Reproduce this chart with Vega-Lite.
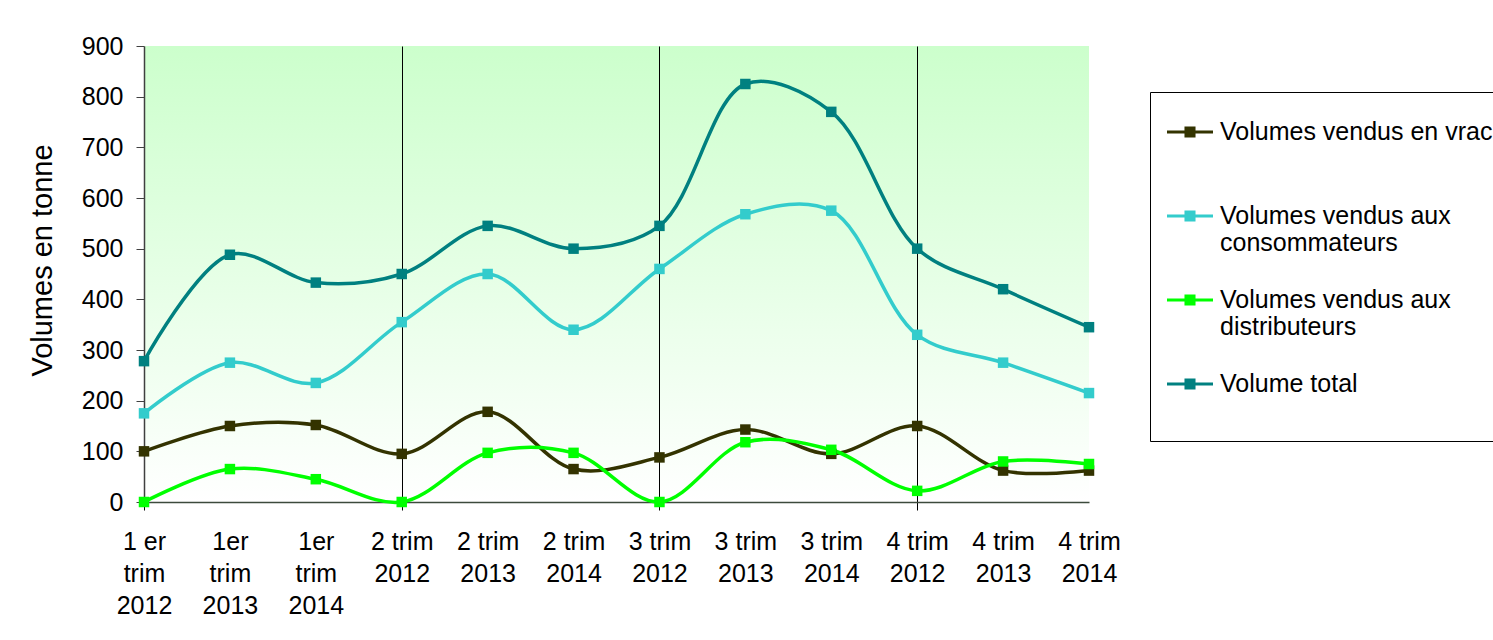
{
  "$schema": "https://vega.github.io/schema/vega-lite/v6.json",
  "width": 945,
  "height": 456,
  "autosize": {"type": "none"},
  "padding": {"left": 144, "top": 46, "right": 404, "bottom": 138},
  "background": "white",
  "config": {
    "font": "Liberation Sans",
    "view": {
      "stroke": null,
      "fill": {"gradient": "linear", "x1": 0, "y1": 0, "x2": 0, "y2": 1, "stops": [{"offset": 0, "color": "#CCFFCC"}, {"offset": 1, "color": "#FFFFFF"}]}
    }
  },
  "data": {
    "values": [
      {"q": "1 er|trim|2012", "s": "Volumes vendus en vrac", "v": 100},
      {"q": "1er|trim|2013", "s": "Volumes vendus en vrac", "v": 150},
      {"q": "1er|trim|2014", "s": "Volumes vendus en vrac", "v": 152},
      {"q": "2 trim|2012", "s": "Volumes vendus en vrac", "v": 95},
      {"q": "2 trim|2013", "s": "Volumes vendus en vrac", "v": 178},
      {"q": "2 trim|2014", "s": "Volumes vendus en vrac", "v": 65},
      {"q": "3 trim|2012", "s": "Volumes vendus en vrac", "v": 88},
      {"q": "3 trim|2013", "s": "Volumes vendus en vrac", "v": 143},
      {"q": "3 trim|2014", "s": "Volumes vendus en vrac", "v": 95},
      {"q": "4 trim|2012", "s": "Volumes vendus en vrac", "v": 150},
      {"q": "4 trim|2013", "s": "Volumes vendus en vrac", "v": 62},
      {"q": "4 trim|2014", "s": "Volumes vendus en vrac", "v": 62},
      {"q": "1 er|trim|2012", "s": "Volumes vendus aux consommateurs", "v": 175},
      {"q": "1er|trim|2013", "s": "Volumes vendus aux consommateurs", "v": 275},
      {"q": "1er|trim|2014", "s": "Volumes vendus aux consommateurs", "v": 235},
      {"q": "2 trim|2012", "s": "Volumes vendus aux consommateurs", "v": 355},
      {"q": "2 trim|2013", "s": "Volumes vendus aux consommateurs", "v": 450},
      {"q": "2 trim|2014", "s": "Volumes vendus aux consommateurs", "v": 340},
      {"q": "3 trim|2012", "s": "Volumes vendus aux consommateurs", "v": 460},
      {"q": "3 trim|2013", "s": "Volumes vendus aux consommateurs", "v": 568},
      {"q": "3 trim|2014", "s": "Volumes vendus aux consommateurs", "v": 575},
      {"q": "4 trim|2012", "s": "Volumes vendus aux consommateurs", "v": 330},
      {"q": "4 trim|2013", "s": "Volumes vendus aux consommateurs", "v": 275},
      {"q": "4 trim|2014", "s": "Volumes vendus aux consommateurs", "v": 215},
      {"q": "1 er|trim|2012", "s": "Volumes vendus aux distributeurs", "v": 0},
      {"q": "1er|trim|2013", "s": "Volumes vendus aux distributeurs", "v": 65},
      {"q": "1er|trim|2014", "s": "Volumes vendus aux distributeurs", "v": 45},
      {"q": "2 trim|2012", "s": "Volumes vendus aux distributeurs", "v": 0},
      {"q": "2 trim|2013", "s": "Volumes vendus aux distributeurs", "v": 97},
      {"q": "2 trim|2014", "s": "Volumes vendus aux distributeurs", "v": 97},
      {"q": "3 trim|2012", "s": "Volumes vendus aux distributeurs", "v": 0},
      {"q": "3 trim|2013", "s": "Volumes vendus aux distributeurs", "v": 118},
      {"q": "3 trim|2014", "s": "Volumes vendus aux distributeurs", "v": 103},
      {"q": "4 trim|2012", "s": "Volumes vendus aux distributeurs", "v": 22},
      {"q": "4 trim|2013", "s": "Volumes vendus aux distributeurs", "v": 80},
      {"q": "4 trim|2014", "s": "Volumes vendus aux distributeurs", "v": 75},
      {"q": "1 er|trim|2012", "s": "Volume total", "v": 278},
      {"q": "1er|trim|2013", "s": "Volume total", "v": 488},
      {"q": "1er|trim|2014", "s": "Volume total", "v": 433},
      {"q": "2 trim|2012", "s": "Volume total", "v": 450},
      {"q": "2 trim|2013", "s": "Volume total", "v": 545},
      {"q": "2 trim|2014", "s": "Volume total", "v": 500},
      {"q": "3 trim|2012", "s": "Volume total", "v": 545},
      {"q": "3 trim|2013", "s": "Volume total", "v": 825},
      {"q": "3 trim|2014", "s": "Volume total", "v": 770},
      {"q": "4 trim|2012", "s": "Volume total", "v": 500},
      {"q": "4 trim|2013", "s": "Volume total", "v": 420},
      {"q": "4 trim|2014", "s": "Volume total", "v": 345}
    ]
  },
  "encoding": {
    "x": {
      "field": "q", "type": "ordinal", "sort": null,
      "scale": {"type": "point", "padding": 0},
      "axis": {
        "title": null, "labelAngle": 0, "labelFontSize": 25, "labelLineHeight": 32,
        "labelColor": "black", "labelBaseline": "top", "labelPadding": 19,
        "labelExpr": "split(datum.label, '|')",
        "grid": true, "gridColor": "black", "gridWidth": 1,
        "gridOpacity": {"condition": {"test": "indexof(['2 trim|2012','3 trim|2012','4 trim|2012'], datum.value) >= 0", "value": 1}, "value": 0},
        "ticks": true, "tickColor": "black", "tickSize": 8,
        "tickOpacity": {"condition": {"test": "indexof(['1 er|trim|2012','2 trim|2012','3 trim|2012','4 trim|2012'], datum.value) >= 0", "value": 1}, "value": 0},
        "domainColor": "#3c4a3c", "domainWidth": 1.5
      }
    },
    "y": {
      "field": "v", "type": "quantitative",
      "scale": {"domain": [0, 900], "nice": false},
      "axis": {
        "title": "Volumes en tonne", "titleFontSize": 29, "titleFontWeight": "normal", "titleColor": "black",
        "titlePadding": 24, "titleY": 214,
        "values": [0, 100, 200, 300, 400, 500, 600, 700, 800, 900],
        "labelFontSize": 25, "labelColor": "black", "labelPadding": 13,
        "grid": false, "tickColor": "#404040", "tickSize": 8, "domainColor": "#404040", "domainWidth": 1.5
      }
    },
    "color": {
      "field": "s", "type": "nominal",
      "scale": {
        "domain": ["Volumes vendus en vrac", "Volumes vendus aux consommateurs", "Volumes vendus aux distributeurs", "Volume total"],
        "range": ["#333300", "#33CCCC", "#00FF00", "#008080"]
      },
      "legend": {
        "title": null, "orient": "none", "legendX": 1006, "legendY": 46,
        "direction": "vertical",
        "labelFontSize": 25, "labelLineHeight": 30, "labelColor": "black", "labelLimit": 0,
        "labelExpr": "datum.label == 'Volumes vendus aux consommateurs' ? ['Volumes vendus aux', 'consommateurs'] : datum.label == 'Volumes vendus aux distributeurs' ? ['Volumes vendus aux', 'distributeurs'] : [datum.label, '']",
        "symbolType": "M-1,-0.07H1V0.07H-1Z M-0.24,-0.24H0.24V0.24H-0.24Z",
        "symbolSize": 2116, "symbolStrokeWidth": 0, "labelOffset": 7,
        "rowPadding": 21, "padding": 17,
        "strokeColor": "black", "fillColor": "white",
        "encode": {
          "symbols": {"update": {"fill": {"scale": "color", "field": "value"}, "stroke": {"value": "transparent"}, "opacity": {"value": 1}}}
        }
      }
    }
  },
  "layer": [
    {"mark": {"type": "line", "interpolate": "catmull-rom", "strokeWidth": 3.5}},
    {"mark": {"type": "square", "size": 110, "opacity": 1, "filled": true}}
  ]
}
